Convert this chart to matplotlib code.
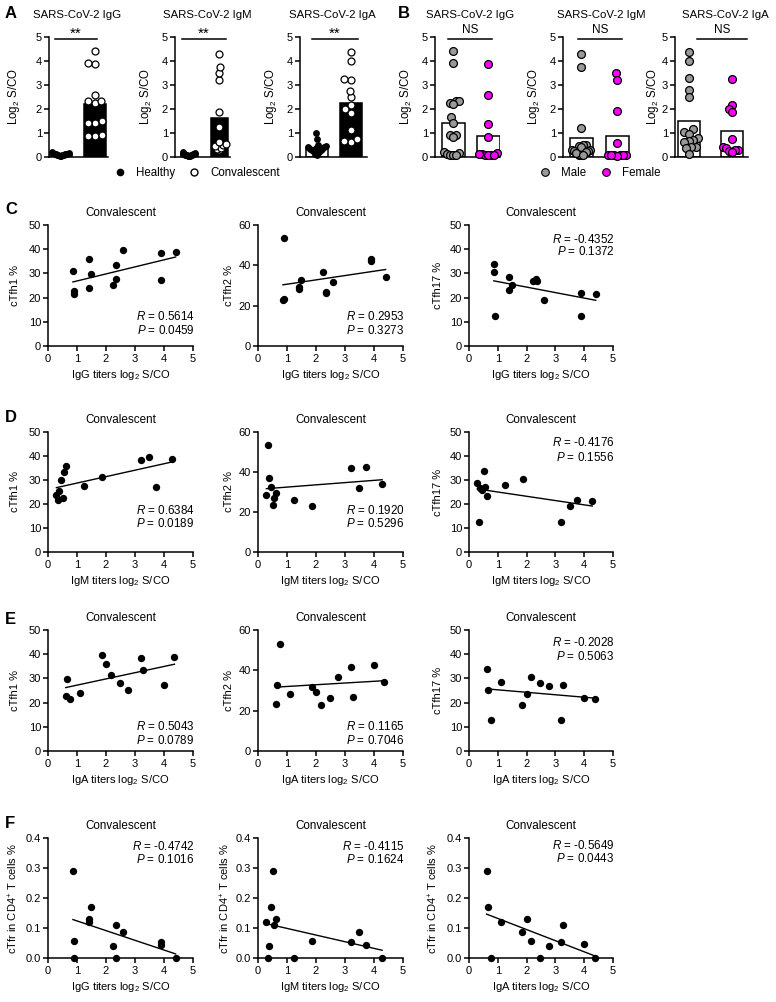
import numpy as np
import matplotlib
matplotlib.use('Agg')
import matplotlib.pyplot as plt
from matplotlib.lines import Line2D

plt.rcParams['font.family'] = ['Liberation Sans', 'DejaVu Sans']
plt.rcParams['mathtext.fontset'] = 'custom'
plt.rcParams['mathtext.rm'] = 'Liberation Sans'
plt.rcParams['mathtext.it'] = 'Liberation Sans:italic'
plt.rcParams['mathtext.bf'] = 'Liberation Sans:bold'
plt.rcParams['axes.linewidth'] = 1.1

# ---------------- DATA ----------------
antibodies = ['IgG', 'IgM', 'IgA']

# Panel A: healthy vs convalescent (log2 S/CO)
healthy_IgG = [0.05, 0.06, 0.08, 0.08, 0.1, 0.1, 0.11, 0.12, 0.12, 0.13, 0.14, 0.15, 0.17, 0.2]
healthy_IgM = [0.04, 0.05, 0.06, 0.08, 0.08, 0.09, 0.1, 0.1, 0.11, 0.12, 0.13, 0.14, 0.16, 0.2]
healthy_IgA = [1.0, 0.75, 0.5, 0.45, 0.42, 0.4, 0.38, 0.35, 0.33, 0.3, 0.28, 0.25, 0.2, 0.12, 0.1]

# Convalescent titres (shared x values for panels C-F)
IgG_x = [0.86, 0.88, 0.9, 1.4, 1.4, 1.48, 2.23, 2.33, 2.35, 2.6, 3.88, 3.9, 4.4]
IgM_x = [0.29, 0.33, 0.37, 0.46, 0.52, 0.54, 0.63, 1.24, 1.87, 3.2, 3.49, 3.74, 4.28]
IgA_x = [0.61, 0.67, 0.77, 1.12, 1.85, 2.0, 2.17, 2.48, 2.77, 3.21, 3.27, 4.01, 4.36]

# Panel B: male vs female
male_IgG = [4.4, 3.9, 2.35, 2.35, 2.25, 2.2, 1.65, 1.4, 0.9, 0.9, 0.83, 0.2, 0.15, 0.12, 0.1, 0.08, 0.1]
female_IgG = [3.88, 2.6, 1.39, 0.85, 0.15, 0.12, 0.1, 0.08, 0.07, 0.1, 0.12]
male_IgM = [4.3, 3.75, 1.22, 0.5, 0.48, 0.45, 0.42, 0.3, 0.28, 0.25, 0.25, 0.1, 0.08, 0.2, 0.15, 0.1]
female_IgM = [3.48, 3.22, 1.9, 0.6, 0.1, 0.08, 0.08, 0.07, 0.06, 0.1, 0.08]
male_IgA = [4.38, 4.02, 3.28, 2.8, 2.5, 1.15, 1.05, 0.97, 0.8, 0.72, 0.65, 0.62, 0.42, 0.4, 0.38, 0.14]
female_IgA = [3.23, 2.18, 2.0, 1.87, 0.75, 0.42, 0.38, 0.3, 0.28, 0.25, 0.22]

sig_A = ['**', '**', '**']
sig_B = ['NS', 'NS', 'NS']

# Panels C-F: T-cell subsets vs titres
cTfh1_IgG = [31.1, 22.8, 21.4, 35.8, 24.0, 29.7, 25.4, 27.5, 33.3, 39.6, 38.4, 27.1, 38.7]
cTfh2_IgG = [23.0, 23.5, 53.7, 28.5, 29.5, 32.8, 36.7, 26.2, 27.0, 31.7, 42.0, 43.0, 34.2]
cTfh17_IgG = [30.5, 33.7, 12.6, 28.6, 23.3, 25.3, 26.9, 27.6, 26.9, 19.2, 22.0, 12.6, 21.3]
cTfh1_IgM = [23.9, 21.5, 25.3, 29.9, 22.6, 33.2, 35.7, 27.6, 31.1, 38.5, 39.7, 26.9, 38.8]
cTfh2_IgM = [28.5, 53.4, 36.8, 32.7, 23.5, 27.0, 29.5, 26.0, 23.0, 42.0, 31.8, 42.6, 34.0]
cTfh17_IgM = [28.75, 12.5, 26.7, 25.7, 33.6, 27.1, 23.3, 27.8, 30.6, 12.5, 19.2, 21.8, 21.25]
cTfh1_IgA = [22.8, 29.8, 21.4, 24.0, 39.8, 35.8, 31.2, 27.9, 25.4, 38.4, 33.3, 27.1, 38.8]
cTfh2_IgA = [23.3, 32.6, 53.3, 28.4, 31.6, 29.4, 22.9, 26.1, 36.7, 41.9, 26.9, 42.7, 34.1]
cTfh17_IgA = [33.7, 25.3, 12.7, 28.7, 19.2, 23.5, 30.7, 27.9, 26.9, 12.7, 27.2, 22.1, 21.4]
cTfr_IgG = [0.291, 0.058, 0.0, 0.13, 0.119, 0.171, 0.04, 0.0, 0.11, 0.087, 0.052, 0.044, 0.0]
cTfr_IgM = [0.121, 0.0, 0.041, 0.169, 0.291, 0.11, 0.13, 0.0, 0.058, 0.054, 0.088, 0.044, 0.0]
cTfr_IgA = [0.291, 0.171, 0.0, 0.121, 0.088, 0.13, 0.058, 0.0, 0.041, 0.054, 0.11, 0.046, 0.0]

R_vals = [[0.5614, 0.2953, -0.4352],
          [0.6384, 0.1920, -0.4176],
          [0.5043, 0.1165, -0.2028],
          [-0.4742, -0.4115, -0.5649]]
P_vals = [[0.0459, 0.3273, 0.1372],
          [0.0189, 0.5296, 0.1556],
          [0.0789, 0.7046, 0.5063],
          [0.1016, 0.1624, 0.0443]]

# ---------------- FIGURE ----------------
W, H = 776, 1002
fig = plt.figure(figsize=(W / 100, H / 100), dpi=100)


def px_axes(L, T, R, B):
    return fig.add_axes([L / W, 1 - B / H, (R - L) / W, (B - T) / H])


def swarm_offsets(vals, ypx, xpx, d, maxhalf):
    vals = np.asarray(vals, float)
    order = np.argsort(vals, kind='stable')
    px_l, py_l = [], []
    offs = np.zeros(len(vals))
    for i in order:
        y = vals[i] * ypx
        cands = [0.0]
        for px, py in zip(px_l, py_l):
            dy = abs(py - y)
            if dy < d:
                dx = np.sqrt(d * d - dy * dy)
                cands.extend([px + dx, px - dx])
        cands.sort(key=lambda c: (abs(c), c))
        chosen = cands[-1]
        for c in cands:
            if all((c - px) ** 2 + (y - py) ** 2 >= d * d - 1e-6 for px, py in zip(px_l, py_l)):
                chosen = c
                break
        px_l.append(chosen)
        py_l.append(y)
        offs[i] = chosen
    m = np.max(np.abs(offs))
    if m > maxhalf:
        offs *= maxhalf / m
    return offs / xpx


def style_axes(ax):
    for s in ['top', 'right']:
        ax.spines[s].set_visible(False)
    ax.tick_params(direction='out', length=3.5, width=1.1, labelsize=8, pad=1.5, colors='black')


def bar_panel(spec, groups, faces, pt_faces, pt_sizes, sig, sig_fs, title, T=37, B=157):
    L, R, c0, c1, bw = spec['L'], spec['R'], spec['c0'], spec['c1'], spec['bw']
    ax = px_axes(L, T, R, B)
    unit = c1 - c0
    a = -(c0 - L) / unit
    b = a + (R - L) / unit
    ax.set_xlim(a, b)
    ax.set_ylim(0, 5)
    ypx = (B - T) / 5.0
    means = [np.mean(g) for g in groups]
    ax.bar([0, 1], means, width=bw / unit, color=faces, edgecolor='black', linewidth=1.1, zorder=1)
    for k, g in enumerate(groups):
        offs = swarm_offsets(g, ypx, unit, 7.0, bw / 2 - 2)
        ax.scatter(k + offs, g, s=pt_sizes[k], facecolor=pt_faces[k], edgecolor='black',
                   linewidths=0.9, zorder=3, clip_on=False)
    style_axes(ax)
    ax.set_xticks([])
    ax.set_yticks(range(6))
    ax.set_ylabel('Log$_2$ S/CO', fontsize=8.3, va='center')
    ax.yaxis.set_label_coords(spec['ylab'] / (R - L), 0.5)
    s0, s1 = spec['sig']
    ax.plot([s0, s1], [4.93, 4.93], color='black', lw=1.1, clip_on=False)
    ax.text((s0 + s1) / 2, spec['sigy'], sig, ha='center', va='center', fontsize=sig_fs)
    fig.text(spec['tcx'] / W, 1 - 15 / H, title, ha='center', va='center', fontsize=8.2)
    return ax


A_specs = [
    dict(L=49, R=108, c0=61, c1=95, bw=22, tcx=77, ylab=-35, sig=(-0.18, 1.06), sigy=5.12),
    dict(L=175, R=230, c0=189, c1=219, bw=17, tcx=207, ylab=-29, sig=(-0.23, 1.23), sigy=5.12),
    dict(L=300, R=367, c0=317, c1=351, bw=22, tcx=332, ylab=-29, sig=(-0.15, 1.2), sigy=5.12),
]
B_specs = [
    dict(L=435, R=500, c0=453, c1=488, bw=23, tcx=470, ylab=-29, sig=(-0.14, 1.11), sigy=5.3),
    dict(L=563, R=630, c0=581, c1=617, bw=23, tcx=601, ylab=-29, sig=(-0.08, 1.14), sigy=5.3),
    dict(L=675, R=748, c0=689, c1=732, bw=22, tcx=725, ylab=-22, sig=(0.19, 1.35), sigy=5.3),
]

A_groups = [(healthy_IgG, IgG_x), (healthy_IgM, IgM_x), (healthy_IgA, IgA_x)]
B_groups = [(male_IgG, female_IgG), (male_IgM, female_IgM), (male_IgA, female_IgA)]

for i, ab in enumerate(antibodies):
    bar_panel(A_specs[i], A_groups[i], ['white', 'black'], ['black', 'white'], [16, 25],
              sig_A[i], 11, 'SARS-CoV-2 ' + ab)
    bar_panel(B_specs[i], B_groups[i], ['white', 'white'], ['#999999', '#FF00FF'], [32, 32],
              sig_B[i], 8.5, 'SARS-CoV-2 ' + ab)

# legends
hA = [Line2D([], [], marker='o', ls='', mfc='black', mec='black', ms=4.5, label='Healthy'),
      Line2D([], [], marker='o', ls='', mfc='white', mec='black', mew=1.0, ms=5, label='Convalescent')]
fig.legend(handles=hA, loc='center', bbox_to_anchor=(197 / W, 1 - 173 / H), ncol=2, frameon=False,
           fontsize=8.3, handletextpad=0.9, columnspacing=1.2, handlelength=1.0, borderpad=0)
hB = [Line2D([], [], marker='o', ls='', mfc='#999999', mec='black', mew=0.8, ms=5.5, label='Male'),
      Line2D([], [], marker='o', ls='', mfc='#FF00FF', mec='black', mew=0.8, ms=5.5, label='Female')]
fig.legend(handles=hB, loc='center', bbox_to_anchor=(600 / W, 1 - 173 / H), ncol=2, frameon=False,
           fontsize=8.3, handletextpad=0.9, columnspacing=1.2, handlelength=1.0, borderpad=0)

# ---------------- SCATTER PANELS ----------------
rows_px = [(225, 346), (432, 552), (630, 751), (838, 958)]
cols_px = [(48, 193), (258, 403), (469, 613)]
x_sets = [IgG_x, IgM_x, IgA_x]
x_labels = ['IgG titers log$_2$ S/CO', 'IgM titers log$_2$ S/CO', 'IgA titers log$_2$ S/CO']
y_rows = [[cTfh1_IgG, cTfh2_IgG, cTfh17_IgG],
          [cTfh1_IgM, cTfh2_IgM, cTfh17_IgM],
          [cTfh1_IgA, cTfh2_IgA, cTfh17_IgA],
          [cTfr_IgG, cTfr_IgM, cTfr_IgA]]
row_xsets = [[0, 0, 0], [1, 1, 1], [2, 2, 2], [0, 1, 2]]
y_labels = [['cTfh1 %', 'cTfh2 %', 'cTfh17 %']] * 3 + [['cTfr in CD4$^{+}$ T cells %'] * 3]
y_lims = [[(0, 50, 10), (0, 60, 20), (0, 50, 10)]] * 3 + [[(0, 0.4, 0.1)] * 3]
text_pos = [[(0.24, 0.13), (0.24, 0.13), (0.884, 0.777)],
            [(0.35, 0.24), (0.35, 0.24), (0.91, 0.79)],
            [(0.20, 0.09), (0.20, 0.09), (0.90, 0.785)],
            [(0.93, 0.82), (0.93, 0.82), (0.94, 0.825)]]
ylab_dx = [[-33, -29, -31]] * 3 + [[-35, -33, -36]]

for r, (T, B) in enumerate(rows_px):
    for c, (L, R) in enumerate(cols_px):
        ax = px_axes(L, T, R, B)
        x = np.array(x_sets[row_xsets[r][c]])
        y = np.array(y_rows[r][c])
        ax.scatter(x, y, s=28, color='black', linewidths=0, zorder=3, clip_on=False)
        k, q = np.polyfit(x, y, 1)
        xs = np.array([x.min(), x.max()])
        ax.plot(xs, k * xs + q, color='black', lw=1.0, zorder=2)
        y0, y1, ys = y_lims[r][c]
        ax.set_xlim(0, 5)
        ax.set_ylim(y0, y1)
        ax.set_xticks(range(6))
        yt = np.arange(y0, y1 + ys / 2, ys)
        ax.set_yticks(yt)
        if ys < 1:
            ax.set_yticklabels([f'{v:.1f}' for v in yt])
        style_axes(ax)
        ax.tick_params(axis='x', pad=2)
        hpx, wpx = B - T, R - L
        ax.set_xlabel(x_labels[row_xsets[r][c]], fontsize=8, va='center')
        ax.xaxis.set_label_coords(0.5, -29 / hpx)
        ax.set_ylabel(y_labels[r][c], fontsize=8, va='center')
        ax.yaxis.set_label_coords(ylab_dx[r][c] / wpx, 0.5)
        ax.text(0.5, 1 + 12 / hpx, 'Convalescent', transform=ax.transAxes,
                ha='center', va='center', fontsize=8.4)
        ty1, ty2 = text_pos[r][c]
        ax.text(1.01, ty1, f'$R$ = {R_vals[r][c]:.4f}', transform=ax.transAxes,
                ha='right', va='center', fontsize=8.4)
        ax.text(1.01, ty2, f'$P$ = {P_vals[r][c]:.4f}', transform=ax.transAxes,
                ha='right', va='center', fontsize=8.4)

# panel letters
for letter, (lx, ly) in zip('ABCDEF', [(5, 14), (398, 14), (5, 210), (5, 418), (5, 619), (5, 823)]):
    fig.text(lx / W, 1 - ly / H, letter, fontweight='bold', fontsize=12, ha='left', va='center')

fig.savefig('out.png', dpi=100)
